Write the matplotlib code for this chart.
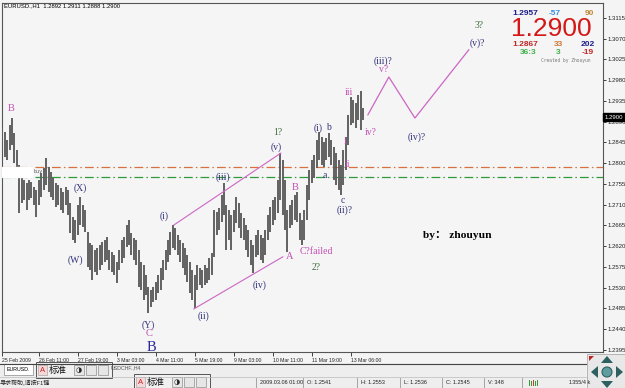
import matplotlib
matplotlib.use("Agg")
import matplotlib.pyplot as plt
import matplotlib.transforms as mtransforms
from matplotlib.patches import Rectangle, Circle, Polygon

# EURUSD, 2-hour bars from 25 Feb to 13 Mar 2009
bar_high = [
    1.2876, 1.2868, 1.2850, 1.2883, 1.2898, 1.2866, 1.2829, 1.2796,
    1.2770, 1.2764, 1.2757, 1.2764, 1.2759, 1.2748, 1.2742, 1.2764,
    1.2779, 1.2790, 1.2811, 1.2792, 1.2781, 1.2768, 1.2757, 1.2753,
    1.2746, 1.2738, 1.2748, 1.2742, 1.2714, 1.2683, 1.2677, 1.2709,
    1.2727, 1.2709, 1.2699, 1.2651, 1.2627, 1.2623, 1.2612, 1.2616,
    1.2623, 1.2629, 1.2634, 1.2640, 1.2612, 1.2607, 1.2601, 1.2586,
    1.2612, 1.2634, 1.2640, 1.2666, 1.2677, 1.2649, 1.2638, 1.2634,
    1.2612, 1.2586, 1.2579, 1.2558, 1.2532, 1.2525, 1.2532, 1.2542,
    1.2558, 1.2573, 1.2590, 1.2612, 1.2634, 1.2651, 1.2666, 1.2660,
    1.2644, 1.2634, 1.2627, 1.2616, 1.2601, 1.2586, 1.2568, 1.2558,
    1.2579, 1.2573, 1.2568, 1.2579, 1.2573, 1.2594, 1.2605, 1.2699,
    1.2694, 1.2703, 1.2731, 1.2757, 1.2709, 1.2699, 1.2688, 1.2699,
    1.2727, 1.2714, 1.2692, 1.2681, 1.2666, 1.2655, 1.2634, 1.2623,
    1.2644, 1.2655, 1.2644, 1.2638, 1.2655, 1.2688, 1.2705, 1.2720,
    1.2727, 1.2764, 1.2822, 1.2807, 1.2764, 1.2699, 1.2709, 1.2720,
    1.2731, 1.2738, 1.2692, 1.2677, 1.2699, 1.2753, 1.2785, 1.2807,
    1.2818, 1.2850, 1.2868, 1.2857, 1.2846, 1.2855, 1.2866, 1.2850,
    1.2835, 1.2822, 1.2807, 1.2796, 1.2829, 1.2857, 1.2905, 1.2944,
    1.2937, 1.2931, 1.2948, 1.2957, 1.2920,
]
bar_low = [
    1.2829, 1.2814, 1.2807, 1.2829, 1.2840, 1.2801, 1.2785, 1.2692,
    1.2714, 1.2720, 1.2699, 1.2720, 1.2725, 1.2709, 1.2683, 1.2709,
    1.2727, 1.2742, 1.2753, 1.2738, 1.2727, 1.2720, 1.2705, 1.2709,
    1.2699, 1.2692, 1.2709, 1.2688, 1.2649, 1.2634, 1.2627, 1.2644,
    1.2666, 1.2662, 1.2651, 1.2575, 1.2568, 1.2547, 1.2564, 1.2558,
    1.2568, 1.2579, 1.2586, 1.2590, 1.2568, 1.2564, 1.2558, 1.2540,
    1.2568, 1.2584, 1.2594, 1.2618, 1.2623, 1.2601, 1.2590, 1.2579,
    1.2532, 1.2525, 1.2503, 1.2514, 1.2475, 1.2488, 1.2499, 1.2503,
    1.2519, 1.2525, 1.2547, 1.2568, 1.2586, 1.2601, 1.2616, 1.2612,
    1.2601, 1.2586, 1.2573, 1.2558, 1.2542, 1.2519, 1.2503, 1.2486,
    1.2525, 1.2536, 1.2529, 1.2536, 1.2540, 1.2547, 1.2558, 1.2597,
    1.2644, 1.2655, 1.2673, 1.2688, 1.2612, 1.2634, 1.2612, 1.2651,
    1.2670, 1.2660, 1.2638, 1.2634, 1.2612, 1.2597, 1.2579, 1.2562,
    1.2597, 1.2601, 1.2590, 1.2584, 1.2601, 1.2634, 1.2651, 1.2666,
    1.2677, 1.2692, 1.2720, 1.2688, 1.2655, 1.2607, 1.2660, 1.2666,
    1.2677, 1.2673, 1.2634, 1.2623, 1.2634, 1.2677, 1.2720, 1.2757,
    1.2768, 1.2790, 1.2807, 1.2796, 1.2792, 1.2807, 1.2814, 1.2796,
    1.2764, 1.2753, 1.2742, 1.2731, 1.2753, 1.2785, 1.2840, 1.2883,
    1.2887, 1.2876, 1.2894, 1.2872, 1.2894,
]
bar_index = list(range(1, len(bar_high) + 1))

time_ticks = [1, 16, 32, 48, 64, 80, 96, 112, 128, 144]
time_labels = ["25 Feb 2009", "26 Feb 11:00", "27 Feb 19:00", "3 Mar 03:00",
               "4 Mar 11:00", "5 Mar 19:00", "9 Mar 03:00", "10 Mar 11:00",
               "11 Mar 19:00", "13 Mar 06:00"]
price_ticks = [1.3115, 1.3070, 1.3025, 1.2980, 1.2935, 1.2890, 1.2845, 1.2800,
               1.2755, 1.2710, 1.2665, 1.2620, 1.2575, 1.2530, 1.2485, 1.2440,
               1.2395]
last_price = 1.2900

# horizontal dash-dot levels
level_orange = 1.2792
level_green = 1.2770

# trend channel (bar, price)
channel_top = ([71.4, 115.3], [1.2666, 1.2822])
channel_bottom = ([79.6, 116.1], [1.2484, 1.2597])
# projected path
proj_bars = [151.0, 159.6, 170.3, 192.4]
proj_prices = [1.2905, 1.2987, 1.2898, 1.3046]

NAVY = "#35357a"
PINK = "#c24fb4"
GREEN = "#3f6b3f"

# wave labels: text, bar, price, colour, size
wave_labels = [
    ("B", 4.5, 1.2918, PINK, 7.5),
    ("(X)", 33.2, 1.2746, NAVY, 7),
    ("(W)", 31.2, 1.2590, NAVY, 7),
    ("(Y)", 60.7, 1.2449, NAVY, 7),
    ("C", 61.1, 1.2430, PINK, 7.5),
    ("B", 62.4, 1.2400, "#2a2a9a", 10.5),
    ("(i)", 67.3, 1.2686, NAVY, 7),
    ("(ii)", 83.7, 1.2469, NAVY, 7),
    ("(iii)", 91.5, 1.2770, NAVY, 7),
    ("(iv)", 106.7, 1.2536, NAVY, 7),
    ("(v)", 113.2, 1.2835, NAVY, 7),
    ("1?", 114.0, 1.2866, GREEN, 7),
    ("A", 119.0, 1.2597, PINK, 7.5),
    ("B", 121.0, 1.2748, PINK, 7.5),
    ("2?", 129.6, 1.2573, GREEN, 7),
    ("(i)", 130.5, 1.2876, NAVY, 7),
    ("b", 135.0, 1.2878, NAVY, 7),
    ("a", 133.3, 1.2774, NAVY, 7),
    ("c", 140.7, 1.2720, NAVY, 7),
    ("(ii)?", 141.3, 1.2699, NAVY, 7),
    ("i", 141.5, 1.2848, PINK, 7),
    ("ii", 142.8, 1.2798, PINK, 7),
    ("iii", 143.2, 1.2953, PINK, 7),
    ("iv?", 152.2, 1.2866, PINK, 7),
    ("(iii)?", 157.1, 1.3022, NAVY, 7),
    ("v?", 157.5, 1.3004, PINK, 7),
    ("(iv)?", 171.1, 1.2857, NAVY, 7),
    ("3?", 196.5, 1.3098, GREEN, 7),
    ("(v)?", 196.1, 1.3061, NAVY, 7),
]

W, H = 625, 388
fig = plt.figure(figsize=(W / 100, H / 100), dpi=100)
fig.patch.set_facecolor("#f4f4f4")

ax = fig.add_axes([2 / W, 36 / H, 601 / W, 349 / H])
ax.set_facecolor("#f5f5f5")
ax.set_xlim(0.9, 247.46)
ax.set_ylim(1.23906, 1.31475)

ax.vlines(bar_index, bar_low, bar_high, color="#5c5c5c", lw=1.35, zorder=3)

ax.axhline(level_orange, color="#d9703f", lw=0.9, dashes=(7, 2.5, 1.2, 2.5), zorder=2)
ax.axhline(level_green, color="#2f9a3c", lw=0.9, dashes=(7, 2.5, 1.2, 2.5), zorder=2)

ax.plot(*channel_top, color="#cc66c4", lw=0.8, zorder=4)
ax.plot(*channel_bottom, color="#cc66c4", lw=0.8, zorder=4)
ax.plot(proj_bars, proj_prices, color="#cc66c4", lw=0.9, zorder=4)

for txt, b, p, col, size in wave_labels:
    ax.text(b, p, txt, color=col, fontsize=size, family="Liberation Serif",
            ha="center", va="center", zorder=5)
ax.text(123.0, 1.2609, "C?failed", color=PINK, fontsize=7,
        family="Liberation Serif", ha="left", va="center", zorder=5)

# white tag with "buy" on the left
trans_ax = mtransforms.blended_transform_factory(ax.transAxes, ax.transData)
ax.add_patch(Rectangle((0, 1.2770), 0.05, 0.0022, transform=trans_ax,
                       color="white", zorder=4))
ax.text(0.053, 1.2781, "buy", transform=trans_ax, fontsize=3.5, color="#555555",
        va="center", ha="left", zorder=5)

ax.text(0.70, 1.2643, "by\uff1a zhouyun", transform=trans_ax, fontsize=8.2,
        fontweight="bold", family=["Liberation Serif", "Noto Sans CJK SC"],
        ha="left", va="center", color="black", zorder=5)

# axes / ticks
ax.yaxis.tick_right()
ax.set_yticks(price_ticks)
ax.set_yticklabels([f"{p:.4f}" for p in price_ticks])
ax.set_xticks(time_ticks)
ax.set_xticklabels(time_labels)
for lab in ax.get_xticklabels():
    lab.set_horizontalalignment("left")
    lab.set_fontfamily("Liberation Sans")
for lab in ax.get_yticklabels():
    lab.set_fontfamily("Liberation Sans")
ax.tick_params(axis="x", length=3, width=0.6, pad=1, labelsize=3.7, colors="#222222")
ax.tick_params(axis="y", length=2, width=0.6, pad=1.5, labelsize=4.3, colors="#222222")
for s in ax.spines.values():
    s.set_color("#555555")
    s.set_linewidth(0.8)

ax.text(1.003, last_price, f"{last_price:.4f}", transform=trans_ax, fontsize=4.3,
        family="Liberation Sans", color="white", ha="left", va="center",
        bbox=dict(boxstyle="square,pad=0.25", fc="black", ec="black"), zorder=6)

# overlay in pixel coordinates for the terminal furniture
ui = fig.add_axes([0, 0, 1, 1])
ui.set_xlim(0, W)
ui.set_ylim(H, 0)
ui.axis("off")
ui.patch.set_alpha(0)

ui.text(4, 6, "EURUSD.,H1  1.2892 1.2911 1.2888 1.2900", fontsize=4.2,
        family="Liberation Sans", va="center", ha="left", color="black")

# info block
info = [
    ("1.2957", 525, 13.5, "#1c1c8a", 6.0, "bold"),
    ("-57", 555, 13.5, "#3a8ee0", 6.0, "bold"),
    ("90", 589, 13.5, "#c08a3a", 6.0, "bold"),
    ("1.2867", 525, 45, "#c02828", 6.0, "bold"),
    ("33", 558, 45, "#d07838", 6.0, "bold"),
    ("202", 588, 45, "#1c1c8a", 6.0, "bold"),
    ("36:3", 528, 52.5, "#3fb04a", 6.0, "bold"),
    ("3", 558, 52.5, "#3fb04a", 6.0, "bold"),
    ("-19", 588, 52.5, "#c02828", 6.0, "bold"),
]
for txt, x, y, col, size, wt in info:
    ui.text(x, y, txt, fontsize=size, fontweight=wt, color=col,
            family="Liberation Sans", ha="center", va="center")
ui.text(551, 29.5, "1.2900", fontsize=19, color="#d41818",
        family="Liberation Sans", ha="center", va="center")
ui.text(566, 60.5, "Created by Zhouyun", fontsize=3.3, color="#777777",
        family="DejaVu Sans Mono", ha="center", va="center")

# bottom: tab strip, floating toolbars, status bar
ui.add_patch(Rectangle((0, 363), 586, 25, fc="#eeeeee", ec="none"))
ui.plot([0, 586], [363.5, 363.5], color="#444444", lw=0.8)
ui.add_patch(Rectangle((4, 364), 29, 11, fc="white", ec="#888888", lw=0.5))
ui.text(7, 369.5, "EURUSD.", fontsize=3.8, family="Liberation Sans", va="center")
ui.text(111, 368, "USDCHF.,H4", fontsize=3.8, family="Liberation Sans",
        va="center", color="#555555")
ui.plot([0, 586], [376.5, 376.5], color="#bbbbbb", lw=0.5)
ui.text(0, 383, "\u5bfb\u6c42\u5e2e\u52a9,\u8bf7\u6309F1\u952e", fontsize=4.3,
        family=["Noto Sans CJK SC", "DejaVu Sans"], va="center", color="#222222")

for x0, y0 in [(36, 362), (134, 374)]:
    ui.add_patch(Rectangle((x0, y0), 76, 16, fc="#f0f0f0", ec="#555555", lw=0.7))
    ui.add_patch(Rectangle((x0 + 2, y0 + 3), 9, 10, fc="#f6d8d8", ec="#999999", lw=0.4))
    ui.text(x0 + 6.5, y0 + 8, "A", fontsize=5.5, color="#cc2222",
            family="Liberation Sans", ha="center", va="center")
    ui.text(x0 + 13, y0 + 8, "\u6807\u51c6", fontsize=6.5,
            family=["Noto Sans CJK SC", "DejaVu Sans"], va="center", color="#111111")
    for k in range(3):
        ui.add_patch(Rectangle((x0 + 38 + 12 * k, y0 + 3), 10, 10, fc="#e6e6e6",
                               ec="#777777", lw=0.4))
    ui.text(x0 + 43, y0 + 8, "\u25d1", fontsize=5, ha="center", va="center",
            family="DejaVu Sans", color="#222222")

status = [("2009.03.06 01:00", 260), ("O: 1.2541", 307), ("H: 1.2553", 361),
          ("L: 1.2536", 404), ("C: 1.2545", 446), ("V: 348", 488),
          ("1355/4 k", 569)]
for txt, x in status:
    ui.text(x, 383, txt, fontsize=4.0, family="Liberation Sans", va="center",
            color="#222222")
for x in [256, 303, 357, 400, 442, 484, 522]:
    ui.plot([x, x], [378, 388], color="#999999", lw=0.6)
for k, c in enumerate(["#3a9a3a", "#3a9a3a", "#c83a3a", "#3a9a3a", "#3a9a3a"]):
    ui.add_patch(Rectangle((529 + 2 * k, 380 + k % 2), 1.4, 6 - k % 2, fc=c, ec="none"))

# scroll widget bottom right
ui.add_patch(Rectangle((587, 354), 38, 34, fc="#e8e8e8", ec="#aaaaaa", lw=0.6))
ui.add_patch(Circle((607, 372), 5, fc="#5f9e9e", ec="#2f5f5f", lw=0.8))
tri = [[(601, 363), (613, 363), (607, 356)], [(601, 381), (613, 381), (607, 388)],
       [(598, 366), (598, 378), (591, 372)], [(616, 366), (616, 378), (623, 372)]]
for t in tri:
    ui.add_patch(Polygon(t, closed=True, fc="#2f6060", ec="none"))
ui.add_patch(Polygon([(589, 356), (594, 356), (589, 361)], closed=True,
                     fc="#c02020", ec="none"))

fig.savefig("out.png", dpi=100, facecolor=fig.get_facecolor())
